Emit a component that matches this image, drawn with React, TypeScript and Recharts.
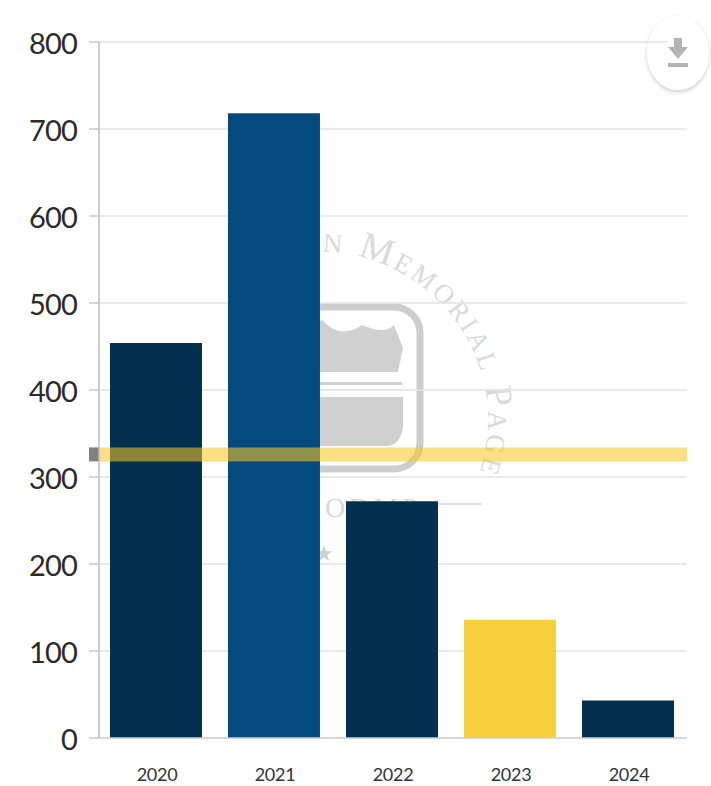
import { BarChart, Bar, Cell, XAxis, YAxis, CartesianGrid, ReferenceLine } from 'recharts';

const years = ['2020', '2021', '2022', '2023', '2024'];
const deaths = [454, 718, 272, 136, 43];
const yTicks = [0, 100, 200, 300, 400, 500, 600, 700, 800];
const average = 326;

const barColors = ['#03304f', '#054a7c', '#03304f', '#f5cf3c', '#03304f'];

const chartData = years.map((year, i) => ({ year, deaths: deaths[i] }));

// faded logo that sits behind the chart
const Watermark = () => (
  <svg width={711} height={786} style={{ position: 'absolute', left: 0, top: 0 }}>
    <defs>
      <path id="ring" d="M 152 420 A 168 168 0 0 1 488 420 A 168 168 0 0 1 152 420" />
    </defs>
    <text
      fontFamily="'Liberation Serif', serif"
      fontSize={38}
      fill="#dadada"
      letterSpacing={3}
      style={{ fontVariant: 'small-caps' }}
    >
      <textPath href="#ring" startOffset={266}>
        n Memorial Page
      </textPath>
    </text>
    <rect x={240} y={307} width={180} height={162} rx={26} fill="none" stroke="#cdcdcd" strokeWidth={7} />
    <path
      d="M 250 330 Q 275 345 300 330 L 322 320 Q 340 340 362 325 Q 385 335 394 325 L 403 348 L 398 372 L 250 372 Z"
      fill="#d0d0d0"
    />
    <rect x={250} y={382} width={152} height={3} fill="#cfcfcf" />
    <path d="M 250 397 L 403 397 L 403 428 Q 400 446 385 446 L 250 446 Z" fill="#d0d0d0" />
    <text x={325} y={517} fontFamily="'Liberation Serif', serif" fontSize={28} fill="#d8d8d8" letterSpacing={4}>
      ODMP
    </text>
    <line x1={438} y1={504} x2={482} y2={504} stroke="#d8d8d8" strokeWidth={1.5} />
    <text x={314} y={561} fontFamily="'DejaVu Sans', sans-serif" fontSize={22} fill="#cfcfcf">
      ★
    </text>
  </svg>
);

const DownloadButton = () => (
  <svg
    width={711}
    height={786}
    style={{ position: 'absolute', left: 0, top: 0, pointerEvents: 'none', overflow: 'visible' }}
  >
    <defs>
      <filter id="soft" x="-30%" y="-30%" width="160%" height="160%">
        <feDropShadow dx={0} dy={2} stdDeviation={2} floodColor="#000" floodOpacity={0.2} />
      </filter>
    </defs>
    <ellipse cx={678} cy={53} rx={31} ry={37} fill="#fff" filter="url(#soft)" />
    <line x1={647} y1={42} x2={668} y2={42} stroke="#e3e3e3" strokeWidth={1.5} />
    <path d="M 674 38 L 682 38 L 682 47 L 688 47 L 678 59 L 668 47 L 674 47 Z" fill="#b4b4b4" />
    <rect x={668} y={63} width={20} height={4} fill="#b4b4b4" />
  </svg>
);

const AverageLine = (props: any) => {
  const { x1, x2, y1 } = props;
  return (
    <g>
      <line x1={x1 - 10} x2={x1} y1={y1} y2={y1} stroke="#808080" strokeWidth={14} />
      <line x1={x1} x2={x2} y1={y1} y2={y1} stroke="#f8c729" strokeOpacity={0.57} strokeWidth={14} />
    </g>
  );
};

export default function App() {
  return (
    <div style={{ position: 'absolute', left: 0, top: 0, width: 711, height: 786, background: '#fff', overflow: 'hidden' }}>
      <Watermark />
      <div style={{ position: 'absolute', left: 0, top: 0 }}>
        <BarChart
          width={711}
          height={786}
          data={chartData}
          margin={{ top: 42, right: 24, bottom: 0, left: 0 }}
          barCategoryGap="11%"
        >
          <CartesianGrid horizontal vertical={false} stroke="#e3e3e3" strokeWidth={1.5} />
          <XAxis
            dataKey="year"
            height={48}
            padding={{ left: -2, right: 0 }}
            axisLine={{ stroke: '#cfcfcf', strokeWidth: 1.5 }}
            tickLine={false}
            tickMargin={24}
            tick={{ fontFamily: 'Lato', fontSize: 18, fill: '#333', letterSpacing: -0.3, dx: 1 }}
          />
          <YAxis
            width={99}
            domain={[0, 800]}
            ticks={yTicks}
            interval={0}
            axisLine={{ stroke: '#bdbdbd', strokeWidth: 1.5 }}
            tickLine={{ stroke: '#c8c8c8', strokeWidth: 1.5 }}
            tickSize={10}
            tickMargin={12}
            tick={{ fontFamily: 'Lato', fontSize: 29, fill: '#2a2a2a', letterSpacing: -0.8, dy: 2 }}
          />
          <Bar dataKey="deaths" isAnimationActive={false}>
            {chartData.map((d, i) => (
              <Cell key={d.year} fill={barColors[i]} />
            ))}
          </Bar>
          <ReferenceLine y={average} shape={AverageLine} />
        </BarChart>
      </div>
      <DownloadButton />
    </div>
  );
}
